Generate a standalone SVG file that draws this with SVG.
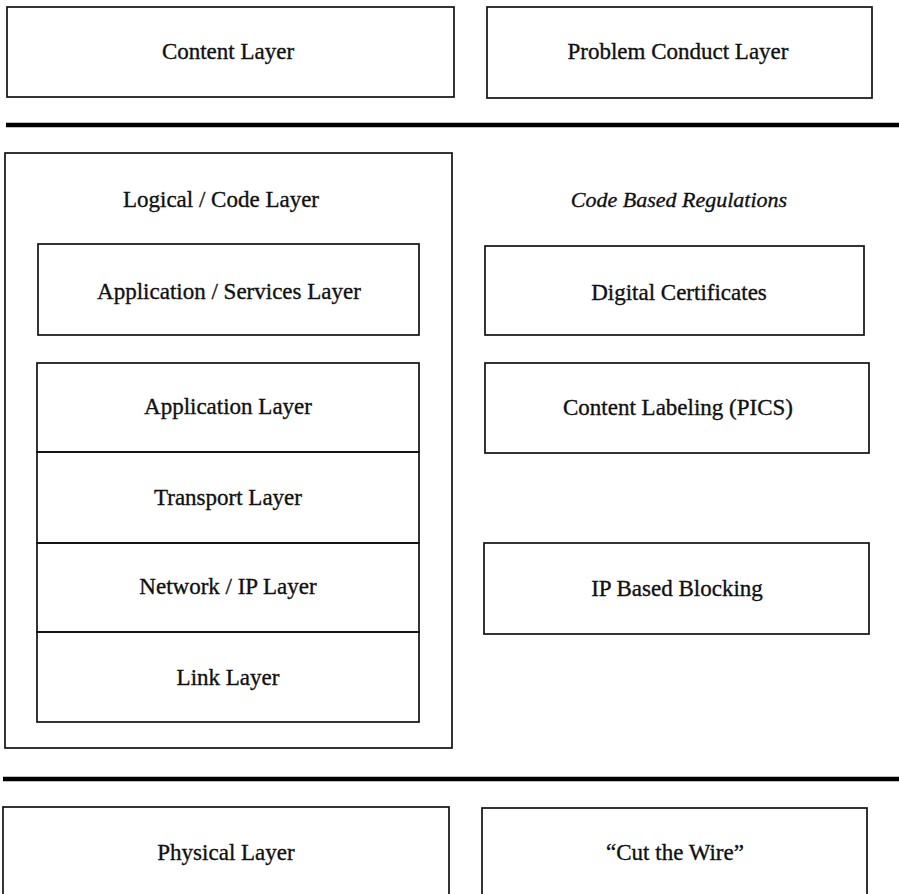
<svg xmlns="http://www.w3.org/2000/svg" width="899" height="894" viewBox="0 0 899 894">
<style>
.box{fill:none;stroke:#111;stroke-width:1.7}
.rule{stroke:#000;stroke-width:4.5}
text{font-family:"Liberation Serif","Times New Roman",serif;font-size:23px;fill:#111;stroke:#111;stroke-width:0.35;text-anchor:middle}
.it{font-style:italic;font-size:22px}
</style>
<rect x="0" y="0" width="899" height="894" fill="#fff"/>
<g id="content-layer"><rect class="box" x="7" y="7" width="447" height="90"/><text x="228" y="59">Content Layer</text></g>
<g id="problem-conduct-layer"><rect class="box" x="487" y="7" width="385" height="91"/><text x="678" y="59">Problem Conduct Layer</text></g>
<g id="rules"><line class="rule" x1="6" y1="125" x2="899" y2="125"/><line class="rule" x1="3" y1="779" x2="899" y2="779"/></g>
<g id="logical-code-layer"><rect class="box" x="5" y="153" width="447" height="595"/><text x="221" y="207">Logical / Code Layer</text></g>
<g id="code-based-regulations"><text class="it" x="679" y="207">Code Based Regulations</text></g>
<g id="application-services-layer"><rect class="box" x="38" y="244" width="381" height="91"/><text x="229" y="299">Application / Services Layer</text></g>
<g id="digital-certificates"><rect class="box" x="485" y="246" width="379" height="89"/><text x="679" y="300">Digital Certificates</text></g>
<g id="application-layer"><rect class="box" x="37" y="363" width="382" height="89"/><text x="228" y="414">Application Layer</text></g>
<g id="transport-layer"><rect class="box" x="37" y="452" width="382" height="91"/><text x="228" y="505">Transport Layer</text></g>
<g id="network-ip-layer"><rect class="box" x="37" y="543" width="382" height="89"/><text x="228" y="594">Network / IP Layer</text></g>
<g id="link-layer"><rect class="box" x="37" y="632" width="382" height="90"/><text x="228" y="685">Link Layer</text></g>
<g id="content-labeling"><rect class="box" x="485" y="363" width="384" height="90"/><text x="678" y="415">Content Labeling (PICS)</text></g>
<g id="ip-based-blocking"><rect class="box" x="484" y="543" width="385" height="91"/><text x="677" y="596">IP Based Blocking</text></g>
<g id="physical-layer"><rect class="box" x="3" y="807" width="446" height="100"/><text x="226" y="860">Physical Layer</text></g>
<g id="cut-the-wire"><rect class="box" x="482" y="808" width="385" height="100"/><text x="675" y="860">“Cut the Wire”</text></g>
<g id="connectors"></g>
</svg>
